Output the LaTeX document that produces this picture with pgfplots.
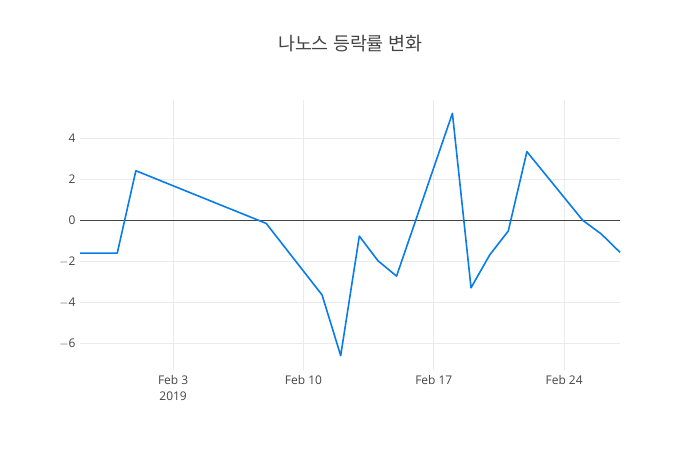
\documentclass[border=0pt]{standalone}
\usepackage{fontspec}
\setmainfont{Open Sans}
\newfontfamily\krfont{Noto Sans CJK KR}
\usepackage{pgfplots}
\pgfplotsset{compat=1.18}
\definecolor{linecol}{RGB}{8,124,234}
\definecolor{txt}{RGB}{68,68,68}
\definecolor{gridc}{RGB}{235,235,235}
\begin{document}
\begin{tikzpicture}
\path[use as bounding box] (0,0) rectangle (700bp,450bp);
\node[text=txt, font=\krfont\fontsize{18.5}{22}\selectfont] at (350bp,406bp) {나노스 등락률 변화};
\begin{axis}[
  at={(80bp,80bp)}, anchor=south west,
  scale only axis, width=540bp, height=270bp,
  xmin=-5, xmax=24, ymin=-7.3, ymax=5.87,
  axis line style={draw=none},
  tick style={draw=none},
  xtick={0,7,14,21},
  xticklabels={{Feb 3\\2019},{Feb 10},{Feb 17},{Feb 24}},
  xticklabel style={align=center, text=txt, font=\fontsize{12}{16}\selectfont, yshift=-2bp},
  ytick={-6,-4,-2,0,2,4},
  yticklabels={$-$6,$-$4,$-$2,0,2,4},
  yticklabel style={text=txt, font=\fontsize{12}{14}\selectfont, xshift=-1bp},
  grid=major,
  major grid style={gridc, line width=0.8bp},
  clip=false,
]
\addplot[txt, line width=0.8bp, forget plot] coordinates {(-5,0) (24,0)};
\addplot[linecol, line width=1.6bp, line join=round] coordinates {
(-5,-1.6) (-4,-1.6) (-3,-1.6) (-2,2.42) (5,-0.15) (8,-3.64) (9,-6.6) (10,-0.77)
(11,-1.97) (12,-2.72) (15,5.22) (16,-3.29) (17,-1.69) (18,-0.52) (19,3.35)
(22,0.0) (23,-0.67) (24,-1.56)
};
\end{axis}
\end{tikzpicture}
\end{document}
